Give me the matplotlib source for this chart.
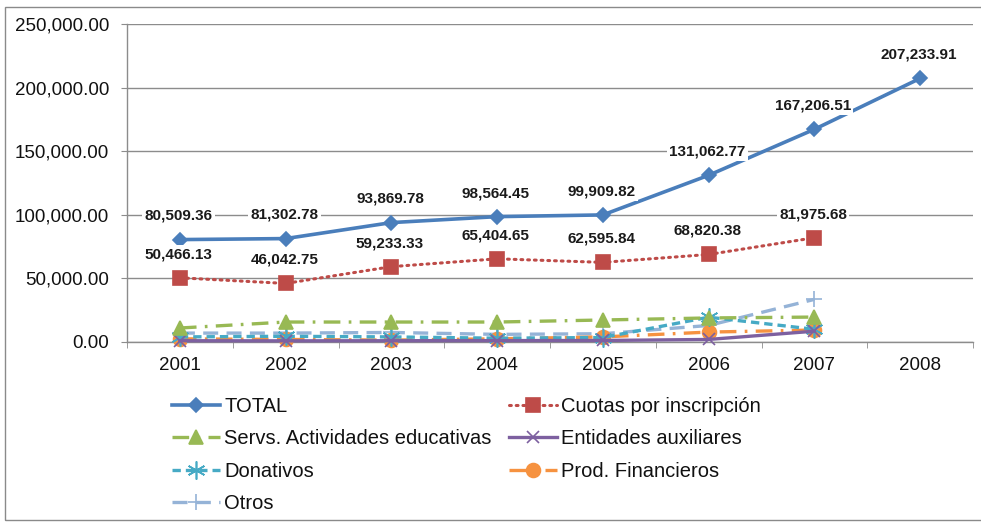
import matplotlib
matplotlib.use("Agg")
import matplotlib.pyplot as plt
from matplotlib.patches import Rectangle
from matplotlib.ticker import FuncFormatter

# ---- data -------------------------------------------------------------
years = ["2001", "2002", "2003", "2004", "2005", "2006", "2007", "2008"]

total = [80509.36, 81302.78, 93869.78, 98564.45, 99909.82,
         131062.77, 167206.51, 207233.91]
cuotas = [50466.13, 46042.75, 59233.33, 65404.65, 62595.84,
          68820.38, 81975.68]
servs = [11000, 15700, 15700, 15700, 17300, 18900, 19600]
entidades = [1000, 900, 1000, 1100, 1200, 2000, 8500]
donativos = [4000, 4500, 4000, 3000, 3500, 19500, 10000]
prod_fin = [2500, 2000, 1500, 2500, 4000, 7800, 9400]
otros = [7000, 7000, 7500, 6000, 6500, 13000, 33500]

y_ticks = [0, 50000, 100000, 150000, 200000, 250000]

# ---- figure -----------------------------------------------------------
W, H, DPI = 981, 525, 100
fig = plt.figure(figsize=(W / DPI, H / DPI), dpi=DPI)
fig.patch.set_facecolor("white")

# chart-area frame
fig.add_artist(Rectangle((5 / W, 1 - 520 / H), 1.2, (520 - 7) / H,
                         transform=fig.transFigure, fill=False,
                         edgecolor="#8a8a8a", lw=1.0))

ax = fig.add_axes([127 / W, 1 - 342 / H, (973 - 127) / W, (342 - 24) / H])

TXT = ["Liberation Sans", "DejaVu Sans"]

x_all = list(range(len(years)))

series = [
    ("TOTAL", total, "#4A7EBB", "-", "D", 7, 2.6, {}),
    ("Cuotas por inscripción", cuotas, "#BE4B48", (0, (0.6, 1.6)), "s", 10.5, 2.2,
     {"dash_capstyle": "round"}),
    ("Servs. Actividades educativas", servs, "#98B954", (0, (5, 2.5, 0.8, 2.5)), "^", 10, 2.4, {}),
    ("Entidades auxiliares", entidades, "#7D60A0", "-", "x", 9, 2.4, {}),
    ("Donativos", donativos, "#46AAC5", (0, (2.5, 1.5)), (6, 2, 0), 13, 2.4, {}),
    ("Prod. Financieros", prod_fin, "#F69240", (0, (5, 2.5, 0.8, 2.5)), "o", 10, 2.4, {}),
    ("Otros", otros, "#95B3D7", (0, (4.5, 2.5)), "+", 12, 2.4, {}),
]

handles = {}
for i, (name, vals, col, ls, mk, ms, lw, extra) in enumerate(series):
    line, = ax.plot(x_all[:len(vals)], vals, color=col, linestyle=ls, linewidth=lw,
                    marker=mk, markersize=ms, markerfacecolor=col, markeredgecolor=col,
                    markeredgewidth=1.2, label=name,
                    zorder=3 + (len(series) - i) * 0.01, clip_on=False, **extra)
    handles[name] = line

# value labels for the two main series
for vals in (total, cuotas):
    for xi, v in zip(x_all, vals):
        ax.annotate(f"{v:,.2f}", (xi, v), xytext=(-1, 17), textcoords="offset points",
                    ha="center", va="center", fontsize=11, fontweight="bold",
                    family=TXT, color="#1a1a1a", zorder=6,
                    bbox=dict(boxstyle="square,pad=0.15", fc="white", ec="none"))

# ---- axes styling -----------------------------------------------------
ax.set_xlim(-0.5, len(years) - 0.5)
ax.set_ylim(0, 250000)
ax.set_yticks(y_ticks)
ax.yaxis.set_major_formatter(FuncFormatter(lambda v, p: f"{v:,.2f}"))
ax.set_xticks(x_all)
ax.set_xticklabels(years)
ax.set_xticks([k - 0.5 for k in range(len(years) + 1)], minor=True)

ax.grid(axis="y", color="#8c8c8c", lw=1.0, zorder=0)
ax.set_axisbelow(True)
for s in ("top", "right"):
    ax.spines[s].set_visible(False)
for s in ("left", "bottom"):
    ax.spines[s].set_color("#8c8c8c")
    ax.spines[s].set_linewidth(1.0)

ax.tick_params(axis="y", length=4, color="#8c8c8c", pad=9, labelsize=13.5)
ax.tick_params(axis="x", which="major", length=0, pad=11, labelsize=13.5)
ax.tick_params(axis="x", which="minor", length=4, color="#8c8c8c")
for lab in ax.get_xticklabels() + ax.get_yticklabels():
    lab.set_family(TXT)
    lab.set_color("#111111")

# ---- legend (filled row by row, two columns) ---------------------------
order = ["TOTAL", "Servs. Actividades educativas", "Donativos", "Otros",
         "Cuotas por inscripción", "Entidades auxiliares", "Prod. Financieros"]
leg = fig.legend([handles[n] for n in order], order,
                 loc="upper left", bbox_to_anchor=(172 / W, 1 - 397 / H),
                 ncol=2, frameon=False, prop={"family": TXT, "size": 14.5},
                 handlelength=2.4, handletextpad=0.2, columnspacing=0.85,
                 labelspacing=0.66, borderpad=0, borderaxespad=0)
for t in leg.get_texts():
    t.set_color("#111111")

fig.savefig("out.png", dpi=DPI, facecolor="white")
